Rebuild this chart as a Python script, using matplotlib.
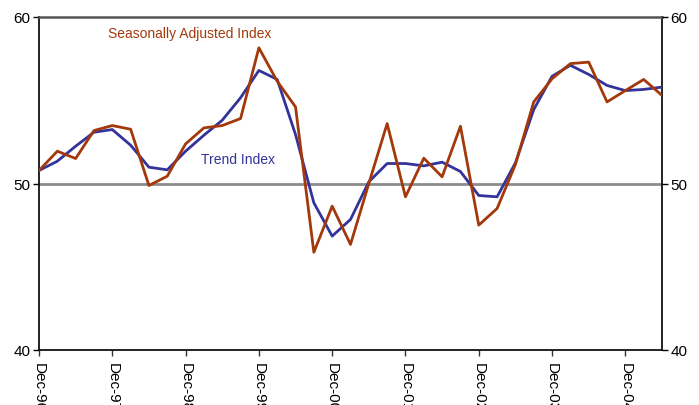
import matplotlib
matplotlib.use("Agg")
import matplotlib.pyplot as plt
import numpy as np

plt.rcParams['font.family'] = ['Liberation Sans', 'DejaVu Sans']

tick_labels = ["Dec-96", "Dec-97", "Dec-98", "Dec-99", "Dec-00",
               "Dec-01", "Dec-02", "Dec-03", "Dec-04"]

seasonally_adjusted = [50.78, 51.94, 51.5, 53.18, 53.48, 53.26, 49.88, 50.44,
                       52.38, 53.34, 53.48, 53.9, 58.15, 56.14, 54.6, 45.87,
                       48.64, 46.34, 50.0, 53.6, 49.2, 51.52, 50.4, 53.44,
                       47.5, 48.5, 51.14, 54.9, 56.29, 57.2, 57.29, 54.9,
                       55.58, 56.25, 55.29]

trend = [50.78, 51.34, 52.24, 53.08, 53.24, 52.3, 50.98, 50.82,
         51.94, 52.9, 53.8, 55.15, 56.79, 56.25, 52.94, 48.84,
         46.84, 47.84, 50.1, 51.2, 51.2, 51.06, 51.28, 50.72,
         49.28, 49.2, 51.24, 54.44, 56.44, 57.1, 56.55, 55.89,
         55.58, 55.65, 55.79]

red = '#A3390B'
blue = '#33339A'

x = np.arange(len(trend))

fig = plt.figure(figsize=(6.99, 4.06), dpi=100)
ax = fig.add_axes([39/699, 1 - 351/406, (662 - 39)/699, (351 - 18)/406])

ax.axhline(50, color='#8c8c8c', lw=2, zorder=1)
ax.plot(x, trend, color=blue, lw=2, zorder=3)
ax.plot(x, seasonally_adjusted, color=red, lw=2, zorder=4)

ax.set_xlim(0, len(trend) - 1)
ax.set_ylim(40, 60)
ax.set_yticks([40, 50, 60])
ax.set_xticks(np.arange(0, len(trend), 4))
ax.set_xticklabels(tick_labels, rotation=270, va='top', ha='center')
ax.tick_params(axis='x', length=4, width=1, pad=5, labelsize=11, color='#333333')
ax.tick_params(axis='y', length=4, width=1, pad=2, labelsize=11)

for side in ['left', 'right', 'bottom']:
    ax.spines[side].set_color('#111111')
    ax.spines[side].set_linewidth(1.3)
ax.spines['top'].set_color('#555555')
ax.spines['top'].set_linewidth(1.8)

ax2 = ax.twinx()
ax2.set_ylim(40, 60)
ax2.set_yticks([40, 50, 60])
ax2.tick_params(axis='y', length=4, width=1, pad=2, labelsize=11)
for s in ax2.spines.values():
    s.set_visible(False)

ax.text(8.24, 59.05, 'Seasonally Adjusted Index', color=red, fontsize=10,
        ha='center', va='center')
ax.text(10.85, 51.45, 'Trend Index', color=blue, fontsize=10,
        ha='center', va='center')

fig.savefig('out.png', dpi=100)
